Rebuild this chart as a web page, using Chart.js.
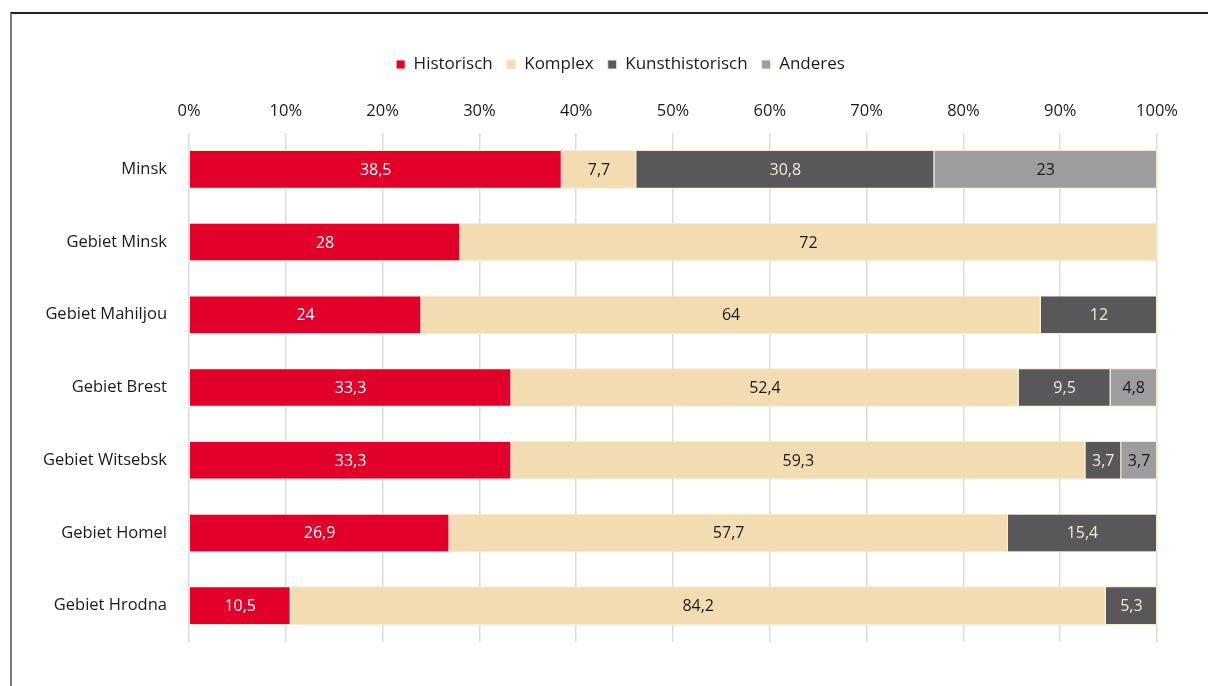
<!DOCTYPE html>
<html lang="de">
<head>
<meta charset="utf-8">
<title>Museen nach Profil</title>
<script src="https://cdn.jsdelivr.net/npm/chart.js@4"></script>
<style>
    html, body { margin: 0; padding: 0; background: #fff; }
    body { width: 1208px; height: 686px; position: relative; overflow: hidden; }
    .frame {
        position: absolute; left: 10px; top: 12px; right: 0; bottom: 0;
        border-left: 2px solid #7a7a7a;
        border-top: 2px solid #222;
    }
    .chart-wrap { position: absolute; left: 0; top: 0; width: 1208px; height: 686px; }
</style>
</head>
<body>
<div class="frame"></div>
<div class="chart-wrap"><canvas id="profileChart" width="1208" height="686"></canvas></div>
<script>
// Regions (top to bottom)
const regions = ['Minsk', 'Gebiet Minsk', 'Gebiet Mahiljou', 'Gebiet Brest', 'Gebiet Witsebsk', 'Gebiet Homel', 'Gebiet Hrodna'];

// Shares in percent per profile
const historisch = [38.5, 28, 24, 33.3, 33.3, 26.9, 10.5];
const komplex = [7.7, 72, 64, 52.4, 59.3, 57.7, 84.2];
const kunsthistorisch = [30.8, null, 12, 9.5, 3.7, 15.4, 5.3];
const anderes = [23, null, null, 4.8, 3.7, null, null];

const xTicks = [0, 10, 20, 30, 40, 50, 60, 70, 80, 90, 100];

const FONT = "'Open Sans', 'Noto Sans', sans-serif";
Chart.defaults.font.family = FONT;
Chart.defaults.color = '#1a1a1a';

// Format numbers with German decimal comma
const formatValue = (v) => String(v).replace('.', ',');

// Value labels in the middle of each segment
const segmentLabels = {
    id: 'segmentLabels',
    afterDatasetsDraw(chart) {
        const ctx = chart.ctx;
        ctx.save();
        ctx.font = '16px ' + FONT;
        ctx.textAlign = 'center';
        ctx.textBaseline = 'middle';
        chart.data.datasets.forEach((ds, i) => {
            const meta = chart.getDatasetMeta(i);
            meta.data.forEach((bar, j) => {
                const v = ds.data[j];
                if (v === null || v === undefined) return;
                const p = bar.getCenterPoint();
                ctx.fillStyle = ds.labelColor;
                ctx.fillText(formatValue(v), p.x, p.y + 1);
            });
        });
        ctx.restore();
    }
};

// Center the legend a bit further right than the full canvas width
const legendShift = {
    id: 'legendShift',
    afterLayout(chart) {
        if (chart.legend) {
            chart.legend.left = 84;
        }
    }
};

const makeSet = (label, data, color, labelColor) => ({
    label: label,
    data: data,
    backgroundColor: color,
    borderColor: '#f7ead0',
    borderWidth: 1,
    labelColor: labelColor,
    barPercentage: 0.53,
    categoryPercentage: 1
});

new Chart(document.getElementById('profileChart'), {
    type: 'bar',
    data: {
        labels: regions,
        datasets: [
            makeSet('Historisch', historisch, '#e2002b', '#ffffff'),
            makeSet('Komplex', komplex, '#f3dcb1', '#1a1a1a'),
            makeSet('Kunsthistorisch', kunsthistorisch, '#58575a', '#f3ead8'),
            makeSet('Anderes', anderes, '#9d9c9e', '#1a1a1a')
        ]
    },
    options: {
        indexAxis: 'y',
        responsive: false,
        animation: false,
        layout: { padding: { top: 42, right: 51, bottom: 44, left: 0 } },
        plugins: {
            legend: {
                position: 'top',
                labels: {
                    boxWidth: 9,
                    boxHeight: 9,
                    padding: 14,
                    font: { size: 17 },
                    color: '#1a1a1a'
                }
            },
            tooltip: { enabled: false }
        },
        scales: {
            x: {
                position: 'top',
                stacked: true,
                min: 0,
                max: 100,
                afterBuildTicks: (scale) => { scale.ticks = xTicks.map(v => ({ value: v })); },
                afterFit: (scale) => { scale.height = 50; },
                border: { display: false },
                grid: { color: '#dcdcdc', lineWidth: 1.5, drawTicks: false },
                ticks: {
                    padding: 12,
                    font: { size: 16.5 },
                    color: '#1a1a1a',
                    callback: (v) => v + '%'
                }
            },
            y: {
                stacked: true,
                afterFit: (scale) => { scale.width = 189; },
                border: { display: false },
                grid: { display: false, drawTicks: false },
                ticks: {
                    padding: 22,
                    font: { size: 16.5 },
                    color: '#1a1a1a'
                }
            }
        }
    },
    plugins: [segmentLabels, legendShift]
});
</script>
</body>
</html>
